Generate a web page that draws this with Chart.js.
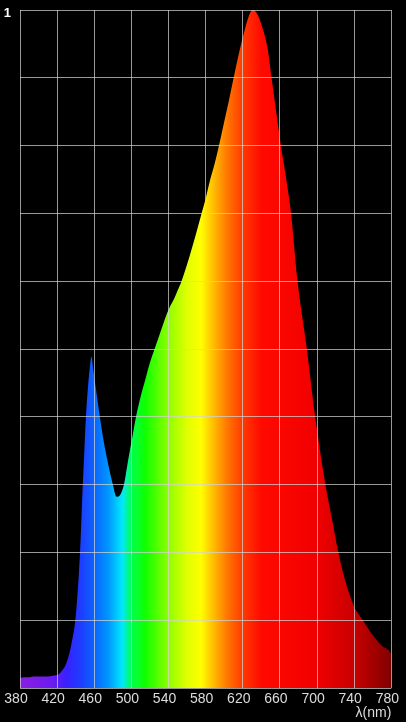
<!DOCTYPE html>
<html>
<head>
<meta charset="utf-8">
<style>
  html, body { margin: 0; padding: 0; background: #000; }
  #wrap { width: 406px; height: 722px; }
</style>
<script src="https://cdn.jsdelivr.net/npm/chart.js@4/dist/chart.umd.min.js"></script>
</head>
<body>
<div id="wrap"><canvas id="c" width="406" height="722"></canvas></div>
<script>
// Wavelengths (nm) and relative intensity
const wavelengths = [380,385,390,395,400,405,410,415,420,425,430,435,440,443,445,447,449,451,453,455,457,459,461,463,466,470,475,480,484,488,492,497,501,505,510,515,520,525,530,535,540,546,550,554,560,565,570,575,580,584,590,594,600,605,608,612,617,622,627,631,636,642,647,651,656,661,667,672,679,689,698,709,716,723,730,740,750,760,770,777,780];
const intensity = [0.015,0.016,0.016,0.017,0.017,0.017,0.017,0.018,0.019,0.025,0.037,0.062,0.105,0.16,0.21,0.28,0.34,0.40,0.44,0.47,0.489,0.469,0.449,0.429,0.40,0.365,0.33,0.30,0.282,0.285,0.30,0.34,0.37,0.40,0.43,0.455,0.48,0.50,0.52,0.54,0.558,0.574,0.587,0.600,0.625,0.648,0.672,0.697,0.722,0.745,0.775,0.798,0.835,0.866,0.886,0.912,0.943,0.970,0.993,1.0,0.993,0.97,0.941,0.90,0.85,0.80,0.749,0.70,0.60,0.50,0.40,0.30,0.25,0.20,0.16,0.12,0.099,0.078,0.062,0.056,0.05];
const xTicks = [380,420,460,500,540,580,620,660,700,740,780];
const yTopLabel = '1';
const xTitle = 'λ(nm)';

// spectrum colour stops (wavelength -> colour)
const specNm  = [380,415,430,445,460,475,490,500,515,540,560,575,590,605,620,640,700,740,780];
const specCol = ['#8a1ee0','#6a1cf0','#3a20ff','#1e3cff','#0a64ff','#0096ff','#00e8ff','#00ff50','#10ff00','#90ff00','#e0ff00','#ffff00','#ffb400','#ff7000','#ff3a00','#ff0a00','#f00000','#c80000','#800000'];

function spectrumFill(ctx) {
  const chart = ctx.chart;
  const area = chart.chartArea;
  if (!area) return '#ff0000';
  const xs = chart.scales.x;
  const x0 = xs.getPixelForValue(380), x1 = xs.getPixelForValue(780);
  const g = chart.ctx.createLinearGradient(x0, 0, x1, 0);
  specNm.forEach((nm, i) => g.addColorStop((nm - 380) / 400, specCol[i]));
  return g;
}

const bgPlugin = {
  id: 'bg',
  beforeDraw(chart) {
    const c = chart.ctx;
    c.save();
    c.fillStyle = '#000';
    c.fillRect(0, 0, chart.width, chart.height);
    c.restore();
  }
};

const gridColor = 'rgba(210,210,210,0.72)';

new Chart(document.getElementById('c'), {
  type: 'line',
  data: {
    datasets: [{
      data: wavelengths.map((w, i) => ({ x: w, y: intensity[i] })),
      fill: 'origin',
      backgroundColor: spectrumFill,
      borderWidth: 0,
      pointRadius: 0,
      cubicInterpolationMode: 'monotone'
    }]
  },
  options: {
    responsive: false,
    animation: false,
    devicePixelRatio: 1,
    layout: { padding: { left: 0, right: 13, top: 2, bottom: 0 } },
    plugins: { legend: { display: false }, tooltip: { enabled: false } },
    scales: {
      x: {
        type: 'linear', min: 380, max: 780,
        afterBuildTicks(scale) { scale.ticks = xTicks.map(v => ({ value: v })); },
        afterFit(scale) { scale.height = 34; },
        grid: { color: gridColor, lineWidth: 1, drawTicks: false, z: 1 },
        border: { display: false },
        ticks: { color: '#dcdcdc', font: { family: 'Liberation Sans', size: 14 }, padding: 3, labelOffset: -4, maxRotation: 0, autoSkip: false },
        title: { display: true, text: xTitle, align: 'end', color: '#dcdcdc', font: { family: 'Liberation Sans', size: 14 }, padding: { top: -3, bottom: 0 } }
      },
      y: {
        min: 0, max: 1,
        ticks: { stepSize: 0.1, color: '#ffffff', font: { family: 'Liberation Sans', size: 13, weight: 'bold' }, padding: 9, labelOffset: 3,
                 callback: v => (Math.abs(v - 1) < 1e-9 ? yTopLabel : '') },
        afterFit(scale) { scale.width = 20; scale.paddingTop = 10; scale.paddingBottom = 0; },
        grid: { color: gridColor, lineWidth: 1, drawTicks: false, z: 1 },
        border: { display: false }
      }
    }
  },
  plugins: [bgPlugin]
});
</script>
</body>
</html>
